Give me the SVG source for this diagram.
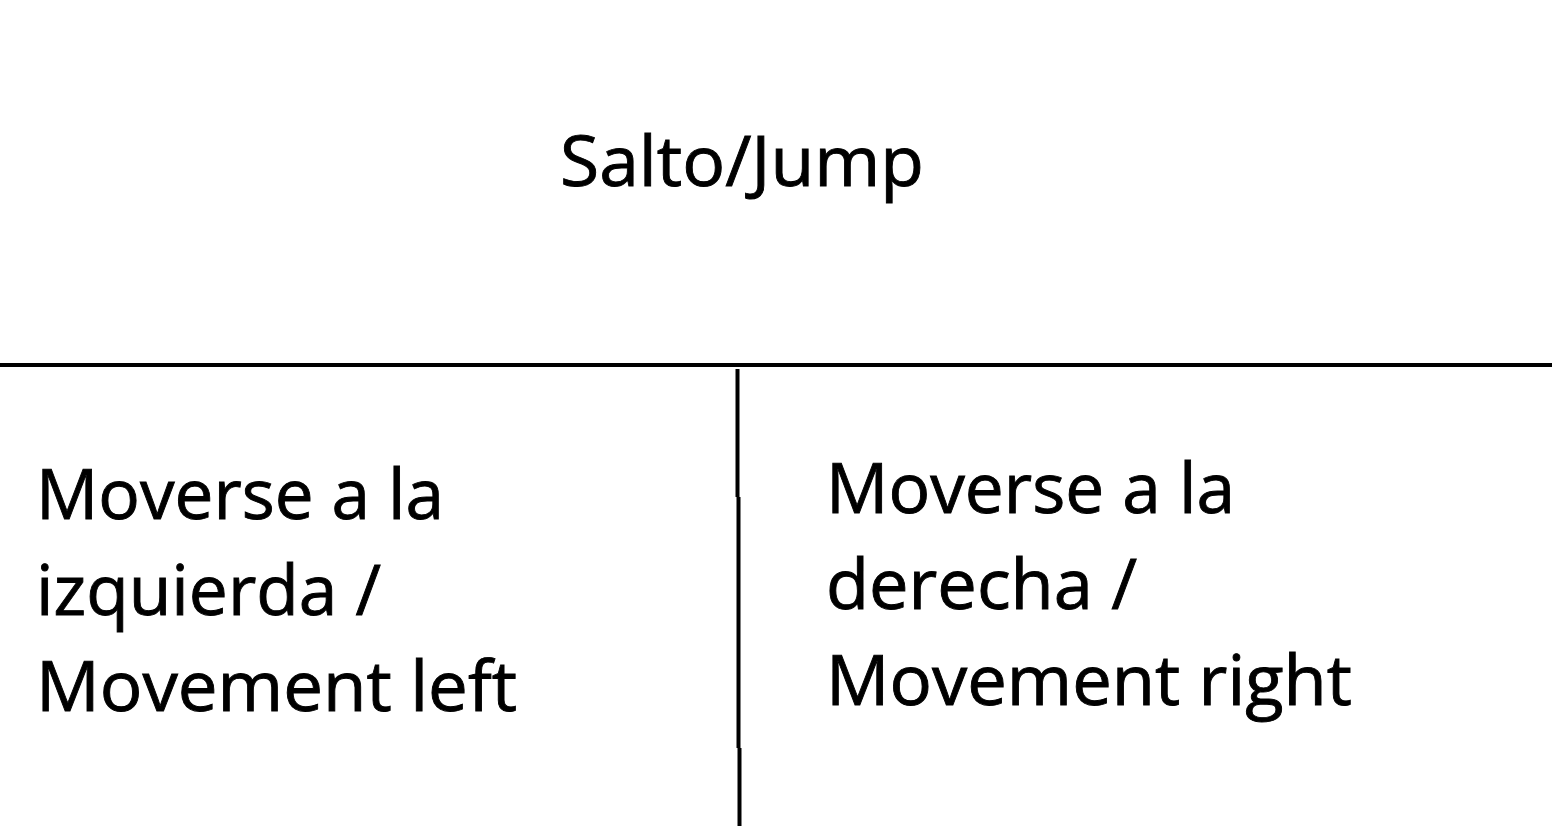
<svg xmlns="http://www.w3.org/2000/svg" width="1552" height="826" viewBox="0 0 1552 826">
<style>
.t{font-family:"Open Sans","Noto Sans","Liberation Sans",sans-serif;font-size:70px;fill:#000;stroke:#000;stroke-width:0.9}
.ln{stroke:#000;stroke-width:4;fill:none}
</style>
<rect width="1552" height="826" fill="#fff"/>
<g id="connectors">
<line class="ln" x1="0" y1="365" x2="1552" y2="365"/>
<line class="ln" x1="737.5" y1="369" x2="737.5" y2="497"/>
<line class="ln" x1="738.5" y1="497" x2="738.5" y2="748"/>
<line class="ln" x1="739.5" y1="748" x2="739.5" y2="826"/>
</g>
<g id="jump">
<text class="t" x="560" y="186" textLength="364" lengthAdjust="spacingAndGlyphs">Salto/Jump</text>
</g>
<g id="left">
<text class="t" x="36" y="519" textLength="408" lengthAdjust="spacingAndGlyphs">Moverse a la</text>
<text class="t" x="36" y="615" textLength="345" lengthAdjust="spacingAndGlyphs">izquierda /</text>
<text class="t" x="36" y="711" textLength="481" lengthAdjust="spacingAndGlyphs">Movement left</text>
</g>
<g id="right">
<text class="t" x="826" y="513" textLength="409" lengthAdjust="spacingAndGlyphs">Moverse a la</text>
<text class="t" x="826" y="609" textLength="311" lengthAdjust="spacingAndGlyphs">derecha /</text>
<text class="t" x="826" y="705" textLength="526" lengthAdjust="spacingAndGlyphs">Movement right</text>
</g>
</svg>
